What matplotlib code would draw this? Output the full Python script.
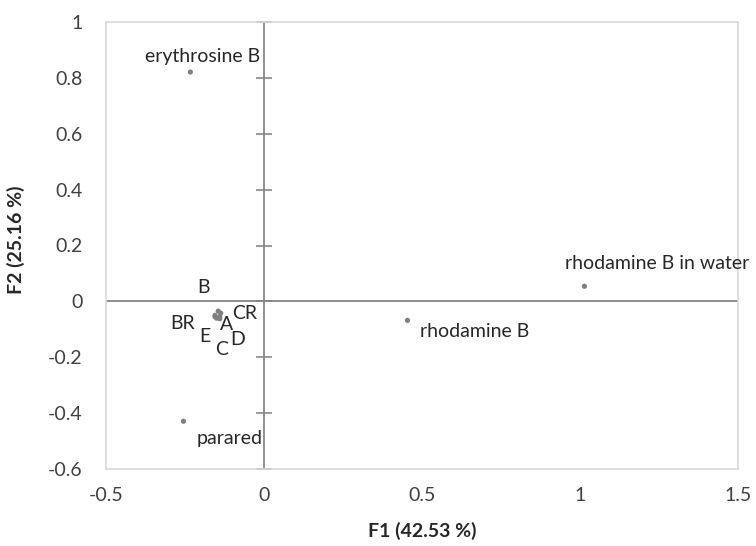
import matplotlib
matplotlib.use("Agg")
import matplotlib.pyplot as plt

plt.rcParams['font.family'] = ['Lato', 'DejaVu Sans']

labels = ["erythrosine B", "rhodamine B in water", "rhodamine B", "parared",
          "A", "B", "C", "D", "E", "BR", "CR"]
f1 = [-0.233, 1.014, 0.454, -0.255, -0.140, -0.145, -0.150, -0.140, -0.155, -0.155, -0.137]
f2 = [0.821, 0.054, -0.068, -0.429, -0.055, -0.035, -0.060, -0.062, -0.055, -0.050, -0.042]

xticks = [-0.5, 0, 0.5, 1, 1.5]
xticklabels = ["-0.5", "0", "0.5", "1", "1.5"]
yticks = [-0.6, -0.4, -0.2, 0, 0.2, 0.4, 0.6, 0.8, 1]
yticklabels = ["-0.6", "-0.4", "-0.2", "0", "0.2", "0.4", "0.6", "0.8", "1"]

# label offsets in pixels (style only): (dx, dy, horizontal alignment)
offsets = [(-45, 16, 'left'), (-19, 23, 'left'), (13, -11, 'left'), (13, -17, 'left'),
           (7, -8, 'center'), (-15, 24, 'center'), (5, -31, 'center'), (18, -21, 'center'),
           (-10, -20, 'center'), (-32, -8, 'center'), (24, 0, 'center')]

fig = plt.figure(figsize=(7.56, 5.46), dpi=100)
ax = fig.add_axes([106/756, 1-469/546, (738-106)/756, (469-22)/546])
ax.set_xlim(-0.5, 1.5)
ax.set_ylim(-0.6, 1.0)

for s in ax.spines.values():
    s.set_color('#d9d9d9')
    s.set_linewidth(1.2)

ax.axhline(0, color='#868686', lw=1.3, zorder=1)
ax.axvline(0, color='#868686', lw=1.3, zorder=1)
for yt in yticks:
    ax.plot([0], [yt], marker='_', markersize=11, color='#868686',
            mew=1.2, zorder=1, clip_on=False)

ax.scatter(f1, f2, s=14, color='#7f7f7f', zorder=3, edgecolors='none')

for lab, x, y, (dx, dy, ha) in zip(labels, f1, f2, offsets):
    ax.annotate(lab, xy=(x, y), xytext=(dx * 0.72, dy * 0.72), textcoords='offset points',
                ha=ha, va='center', fontsize=14, color='#262626')

ax.set_xticks(xticks)
ax.set_xticklabels(xticklabels)
ax.set_yticks(yticks)
ax.set_yticklabels(yticklabels)
ax.tick_params(length=0, labelsize=14, labelcolor='#404040')
ax.tick_params(axis='y', pad=17)
ax.tick_params(axis='x', pad=13)

ax.set_xlabel("F1 (42.53 %)", fontsize=14, fontweight='bold', color='#262626')
ax.xaxis.set_label_coords(0.5, -(522 - 469) / 447, transform=ax.transAxes)
ax.set_ylabel("F2 (25.16 %)", fontsize=14, fontweight='bold', color='#262626')
ax.yaxis.set_label_coords(-(106 - 25) / 632, (469 - 240) / 447, transform=ax.transAxes)

fig.savefig("out.png", dpi=100)
